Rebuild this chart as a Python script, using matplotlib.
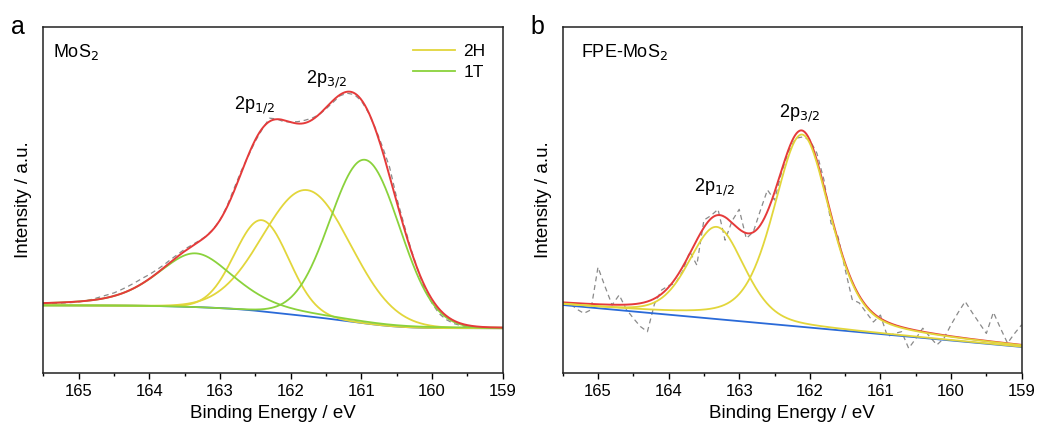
import numpy as np
import matplotlib
matplotlib.use("Agg")
import matplotlib.pyplot as plt

plt.rcParams['font.family'] = ['Liberation Sans', 'DejaVu Sans']

# colours used in the source figure
RED, YEL, GRN, BLU, GRY = "#e53a3a", "#e2d63b", "#8ad23c", "#2a6ad8", "#8a8a8a"

# measured data, 0.1 eV steps from 165.5 down to 159.0
be = np.round(np.arange(165.5, 158.95, -0.1), 1)
mos2_raw = [20.0, 20.1, 20.2, 20.3, 20.4, 20.6, 20.9, 21.4, 22.0, 22.6,
            23.2, 24.1, 25.1, 26.2, 27.4, 28.5, 29.8, 31.2, 32.8, 34.3,
            35.8, 37.0, 38.2, 39.5, 41.5, 44.2, 48.3, 53.4, 58.4, 62.7,
            67.0, 70.5, 73.6, 73.4, 72.6, 72.5, 72.6, 73.0, 73.6, 74.6,
            76.3, 78.2, 80.1, 80.8, 80.4, 78.6, 75.2, 70.6, 65.3, 59.4,
            50.6, 43.2, 35.9, 29.8, 24.0, 20.2, 17.2, 15.5, 14.4, 13.8,
            13.4, 13.3, 13.2, 13.1, 13.1, 13.0]
fpe_raw = [20.2, 20.2, 18.5, 17.3, 18.3, 30.6, 25.0, 19.7, 22.6, 18.5,
           15.9, 13.5, 12.0, 20.0, 24.0, 25.3, 26.0, 29.5, 35.1, 31.2,
           44.2, 45.5, 47.3, 38.4, 44.0, 47.3, 38.9, 40.8, 47.0, 52.9,
           50.0, 58.0, 64.0, 67.8, 68.2, 67.3, 63.5, 55.8, 43.3, 39.4,
           30.0, 21.3, 20.3, 17.5, 14.8, 16.8, 10.6, 11.5, 12.0, 7.2,
           10.0, 13.0, 10.5, 8.2, 10.1, 14.0, 17.5, 20.7, 17.5, 14.5,
           11.5, 17.6, 13.0, 8.7, 11.5, 14.0]

# fitted components: centre (eV), height, FWHM, lorentz fraction
mos2_2h = dict(c=[161.77, 162.41], h=[36.4, 26.3], w=[1.46, 0.90], m=[0.0, 0.0])
mos2_1t = dict(c=[160.95, 163.35], h=[47.2, 15.5], w=[1.16, 1.30], m=[0.0, 0.5])
mos2_bg = (19.6, 13.0)        # background level at 165.5 and 159 eV (Shirley)
fpe_2h = dict(c=[162.11, 163.32], h=[55.5, 26.6], w=[0.95, 0.92], m=[0.4, 0.3])
fpe_bg = (19.7, 7.6)          # linear background at 165.5 and 159 eV

xf = np.linspace(159.0, 165.5, 651)

def gl(x, c, h, w, m):
    d = (x - c) / w
    return h * ((1 - m) * np.exp(-4 * np.log(2) * d**2) + m / (1 + 4 * d**2))

def comps(p):
    return [gl(xf, c, h, w, m) for c, h, w, m in zip(p["c"], p["h"], p["w"], p["m"])]

def shirley(tot, hi, lo):
    cum = np.concatenate([[0], np.cumsum((tot[1:] + tot[:-1]) / 2 * np.diff(xf))])
    return lo + (hi - lo) * cum / cum[-1]

fig = plt.figure(figsize=(10.37, 4.34), dpi=100)
axa = fig.add_axes([0.0418, 0.1399, 0.443, 0.7986])
axb = fig.add_axes([0.5426, 0.1399, 0.4426, 0.7986])

# --- panel a
c2h, c1t = comps(mos2_2h), comps(mos2_1t)
tot = sum(c2h) + sum(c1t)
bg = shirley(tot, *mos2_bg)
axa.plot(be, mos2_raw, color=GRY, lw=0.9, ls=(0, (4, 3)))
axa.plot(xf, bg, color=BLU, lw=1.3)
for k, cc in enumerate(c2h):
    axa.plot(xf, bg + cc, color=YEL, lw=1.3, label="2H" if k == 0 else None)
for k, cc in enumerate(c1t):
    axa.plot(xf, bg + cc, color=GRN, lw=1.3, label="1T" if k == 0 else None)
axa.plot(xf, bg + tot, color=RED, lw=1.4)
axa.legend(loc="upper right", frameon=False, fontsize=12.5, handlelength=2.4,
           handletextpad=0.5, labelspacing=0.35, borderaxespad=0.6)
axa.text(0.02, 0.955, "MoS$_2$", transform=axa.transAxes, fontsize=13, va="top")
axa.text(162.52, 74.3, "2p$_{1/2}$", fontsize=13, ha="center", va="bottom")
axa.text(161.5, 81.8, "2p$_{3/2}$", fontsize=13, ha="center", va="bottom")
fig.text(0.011, 0.965, "a", fontsize=18, va="top")

# --- panel b
cb = comps(fpe_2h)
bgb = fpe_bg[1] + (fpe_bg[0] - fpe_bg[1]) * (xf - 159.0) / 6.5
axb.plot(be, fpe_raw, color=GRY, lw=0.9, ls=(0, (4, 3)))
axb.plot(xf, bgb, color=BLU, lw=1.3)
axb.plot(xf, bgb + sum(cb), color=RED, lw=1.4)
for cc in cb:
    axb.plot(xf, bgb + cc, color=YEL, lw=1.3)
axb.text(0.04, 0.955, "FPE-MoS$_2$", transform=axb.transAxes, fontsize=13, va="top")
axb.text(163.35, 50.5, "2p$_{1/2}$", fontsize=13, ha="center", va="bottom")
axb.text(162.15, 72, "2p$_{3/2}$", fontsize=13, ha="center", va="bottom")
fig.text(0.512, 0.965, "b", fontsize=18, va="top")

for ax in (axa, axb):
    ax.set_xlim(165.5, 159)
    ax.set_ylim(0, 100)
    ax.set_yticks([])
    ax.set_xticks(range(165, 158, -1))
    ax.set_xticks(np.arange(165.5, 158.9, -0.5), minor=True)
    ax.tick_params(axis="x", which="major", length=4, width=1, labelsize=12, pad=4)
    ax.tick_params(axis="x", which="minor", length=2.5, width=1)
    for s in ax.spines.values():
        s.set_linewidth(1.1)
        s.set_color("#222222")
    ax.set_xlabel("Binding Energy / eV", fontsize=13.5, labelpad=4)
    ax.set_ylabel("Intensity / a.u.", fontsize=13.5)
    ax.yaxis.set_label_coords(-0.024, 0.5)

fig.savefig("out.png", dpi=100)
